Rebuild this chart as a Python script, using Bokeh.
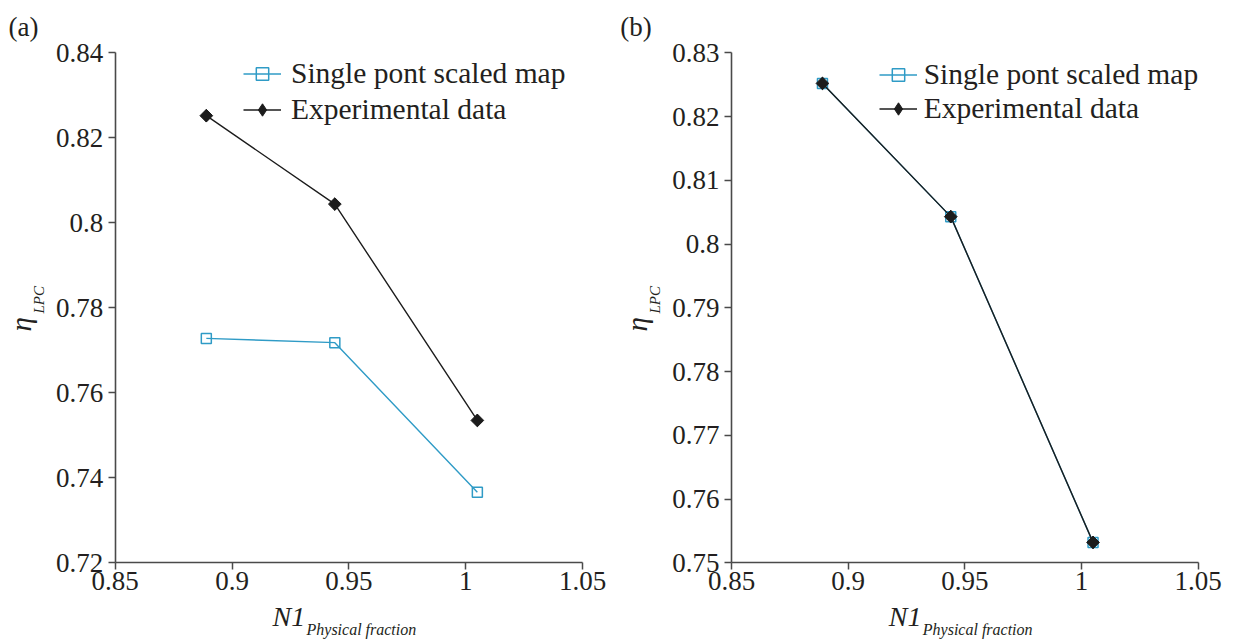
import numpy as np
from bokeh.plotting import figure
from bokeh.models import (Label, FixedTicker, Legend, LegendItem, LinearAxis, Range1d)
from bokeh.layouts import row
from bokeh.embed import file_html
from bokeh.resources import INLINE

# ---------------- data ----------------
n1 = [0.889, 0.944, 1.005]
eta_scaled_a = [0.7728, 0.7718, 0.7366]
eta_exp_a = [0.8252, 0.8044, 0.7535]
eta_scaled_b = [0.8252, 0.8043, 0.7532]
eta_exp_b = [0.8252, 0.8043, 0.7532]

x_ticks = [0.85, 0.9, 0.95, 1.0, 1.05]
x_tick_labels = ["0.85", "0.9", "0.95", "1", "1.05"]
y_ticks_a = [0.72, 0.74, 0.76, 0.78, 0.80, 0.82, 0.84]
y_tick_labels_a = ["0.72", "0.74", "0.76", "0.78", "0.8", "0.82", "0.84"]
y_ticks_b = [0.75, 0.76, 0.77, 0.78, 0.79, 0.80, 0.81, 0.82, 0.83]
y_tick_labels_b = ["0.75", "0.76", "0.77", "0.78", "0.79", "0.8", "0.81", "0.82", "0.83"]

series_names = ["Single pont scaled map", "Experimental data"]
panel_tags = ["(a)", "(b)"]
x_label_main = "N1"
x_label_sub = "Physical fraction"
y_label_main = "\u03b7"
y_label_sub = "LPC"

# ---------------- style / layout ----------------
SERIF = "Liberation Serif"
BLUE = "#2f9bc6"
BLACK = "#1c1c1c"
AXIS = "#4a4a4a"
TEXT = "#231f20"
H = 640
BASELINE_FIX = 0.33   # empirical shift of the label baseline, in em


def make_panel(W, frame, tag, tag_x, y_ticks, y_labels, eta_scaled, eta_exp,
               legend_xy, row_h, standoff):
    left, right, top, bottom = frame
    x0, x1 = x_ticks[0], x_ticks[-1]
    y0, y1 = y_ticks[0], y_ticks[-1]
    kx = (x1 - x0) / (right - left)
    ky = (y1 - y0) / (bottom - top)
    xr = Range1d(x0 - left * kx, x0 + (W - left) * kx)
    yr = Range1d(y0 - (H - bottom) * ky, y1 + top * ky)

    p = figure(width=W, height=H, x_range=xr, y_range=yr,
               x_axis_location=None, y_axis_location=None,
               min_border=0, output_backend="svg", toolbar_location=None,
               background_fill_color="white", border_fill_color="white")
    p.outline_line_color = None
    p.grid.visible = False

    xa = LinearAxis(fixed_location=y0, bounds=(x0, x1), ticker=FixedTicker(ticks=x_ticks))
    xa.major_label_overrides = {t: l for t, l in zip(x_ticks, x_tick_labels)}
    xa.major_label_standoff = 2
    ya = LinearAxis(fixed_location=x0, bounds=(y0, y1), ticker=FixedTicker(ticks=y_ticks))
    ya.major_label_overrides = {t: l for t, l in zip(y_ticks, y_labels)}
    ya.major_label_standoff = 5
    for ax in (xa, ya):
        ax.axis_line_color = AXIS
        ax.axis_line_width = 1.6
        ax.major_tick_line_color = AXIS
        ax.major_tick_line_width = 1.5
        ax.major_tick_in = 0
        ax.major_tick_out = 7
        ax.minor_tick_line_color = None
        ax.major_label_text_font = SERIF
        ax.major_label_text_font_size = "27px"
        ax.major_label_text_color = TEXT
    p.add_layout(xa, "below")
    p.add_layout(ya, "left")

    # series 1: single point scaled map (hollow squares)
    l1 = p.line(n1, eta_scaled, line_color=BLUE, line_width=1.4)
    m1 = p.scatter(n1, eta_scaled, marker="square", size=10, line_color=BLUE,
                   line_width=1.5, fill_color=None)
    # series 2: experimental data (filled diamonds)
    l2 = p.line(n1, eta_exp, line_color=BLACK, line_width=1.4)
    m2 = p.scatter(n1, eta_exp, marker="diamond", size=12, line_color=BLACK,
                   fill_color=BLACK, line_width=1)
    p.scatter(n1, eta_exp, marker="square", angle=np.pi / 4, size=9,
              line_color=BLACK, fill_color=BLACK, line_width=1)

    lx, ly_top = legend_xy
    legend = Legend(items=[LegendItem(label=series_names[0], renderers=[l1, m1]),
                           LegendItem(label=series_names[1], renderers=[l2, m2])],
                    location=(lx, H - (ly_top + 2 * row_h)),
                    border_line_color=None, background_fill_alpha=0,
                    padding=0, spacing=0, margin=0,
                    label_height=row_h, glyph_height=31, glyph_width=38,
                    label_standoff=standoff,
                    label_text_font=SERIF, label_text_font_size="29.5px",
                    label_text_color=TEXT)
    p.add_layout(legend)

    def add_text(x_px, y_px, text, size, italic=False, rotated=False):
        fix = BASELINE_FIX * size
        if rotated:
            x_px -= fix
        else:
            y_px -= fix
        p.add_layout(Label(x=x_px, y=H - y_px, x_units="screen", y_units="screen",
                           text=text, text_font=SERIF,
                           text_font_style="italic" if italic else "normal",
                           text_font_size=f"{size}px", text_color=TEXT,
                           angle=np.pi / 2 if rotated else 0.0,
                           text_baseline="alphabetic", text_align="left"))

    add_text(tag_x, 35, tag, 27)
    # x-axis label  N1_{Physical fraction}
    add_text(left + 157.3, 625, x_label_main, 28, italic=True)
    add_text(left + 191.3, 634, x_label_sub, 16, italic=True)
    # y-axis label  eta_{LPC} (rotated)
    add_text(left - 84.7, 331, y_label_main, 29, italic=True, rotated=True)
    add_text(left - 71.7, 313, y_label_sub, 15, italic=True, rotated=True)
    return p


pa = make_panel(617, (114.7, 582.0, 52.3, 562.3), panel_tags[0], 8,
                y_ticks_a, y_tick_labels_a, eta_scaled_a, eta_exp_a,
                legend_xy=(243.0, 55.3), row_h=36, standoff=10)
pb = make_panel(612, (114.0, 580.5, 52.3, 562.3), panel_tags[1], 2.7,
                y_ticks_b, y_tick_labels_b, eta_scaled_b, eta_exp_b,
                legend_xy=(261.7, 57.0), row_h=34, standoff=7)

layout = row(pa, pb)
open("out.html", "w").write(file_html(layout, INLINE))
